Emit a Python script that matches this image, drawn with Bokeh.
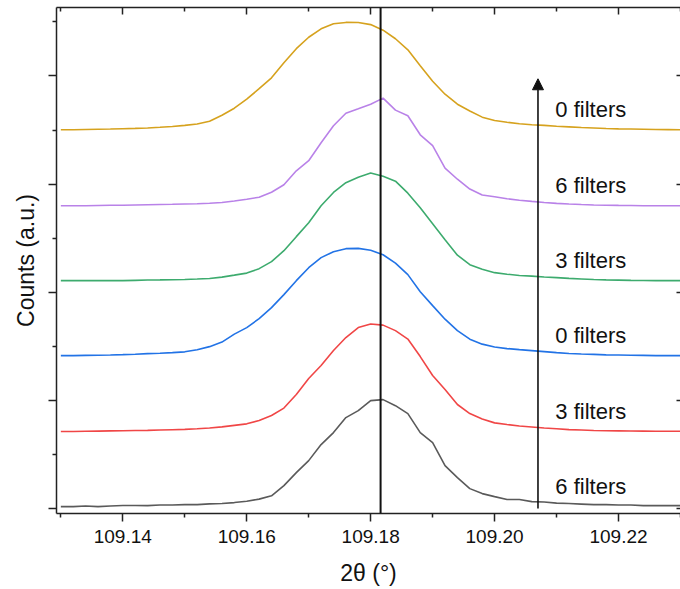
from bokeh.plotting import figure
from bokeh.models import (Range1d, FixedTicker, LinearAxis, Span, Arrow, NormalHead,
                          PrintfTickFormatter, ColumnDataSource, LabelSet)
from bokeh.core.properties import value
from bokeh.embed import file_html
from bokeh.resources import INLINE

# ---------------- data ----------------
two_theta = [109.130, 109.132, 109.134, 109.136, 109.138, 109.140, 109.142, 109.144, 109.146, 109.148,
             109.150, 109.152, 109.154, 109.156, 109.158, 109.160, 109.162, 109.164, 109.166, 109.168,
             109.170, 109.172, 109.174, 109.176, 109.178, 109.180, 109.182, 109.184, 109.186, 109.188,
             109.190, 109.192, 109.194, 109.196, 109.198, 109.200, 109.202, 109.204, 109.206, 109.208,
             109.210, 109.212, 109.214, 109.216, 109.218, 109.220, 109.222, 109.224, 109.226, 109.228,
             109.230]

gray_6f = [0, 0, .005, 0, .005, .01, .01, .009, .014, .014, .018, .018, .025, .028, .037, .049, .069, .10,
           .194, .314, .425, .573, .684, .823, .887, .98, .989, .933, .86, .684, .591, .379, .268, .166,
           .12, .092, .065, .065, .046, .042, .032, .028, .023, .018, .018, .014, .014, .009, .009, .009, .009]
red_3f = [0, 0, .002, .004, .006, .007, .009, .011, .014, .017, .02, .025, .032, .043, .057, .071, .102,
          .148, .217, .342, .49, .61, .749, .869, .961, .995, .984, .933, .855, .693, .518, .388, .25, .166,
          .116, .08, .065, .051, .042, .032, .025, .018, .014, .009, .007, .006, .005, .004, .003, .003, .003]
blue_0f = [0, 0, .002, .004, .006, .009, .013, .018, .022, .028, .035, .054, .083, .125, .199, .259, .342,
           .444, .564, .693, .813, .906, .961, .989, .992, .975, .933, .855, .749, .591, .462, .337, .231,
           .152, .106, .079, .065, .055, .046, .037, .028, .02, .015, .011, .007, .006, .004, .002, 0, 0, 0]
green_3f = [0, 0, 0, 0, 0, 0, .003, .006, .007, .009, .011, .015, .02, .033, .051, .07, .111, .176, .277,
            .407, .536, .693, .816, .906, .957, .995, .966, .92, .809, .675, .527, .379, .236, .148, .106,
            .074, .06, .048, .042, .034, .028, .021, .016, .011, .007, .005, .003, .002, 0, 0, 0]
purple_6f = [0, 0, 0, .002, .004, .005, .007, .009, .011, .013, .016, .018, .023, .03, .043, .06, .079,
             .125, .194, .323, .416, .582, .739, .855, .896, .938, .995, .884, .832, .656, .555, .347, .245,
             .154, .099, .083, .065, .051, .04, .03, .022, .016, .011, .007, .005, .003, .002, 0, 0, 0, 0]
gold_0f = [0, 0, .002, .004, .006, .009, .012, .016, .022, .03, .04, .053, .079, .134, .199, .282, .379,
           .48, .619, .749, .855, .933, .98, .992, .991, .972, .92, .841, .739, .592, .448, .328, .236, .173,
           .116, .085, .069, .055, .046, .04, .032, .026, .02, .016, .011, .008, .006, .004, .002, .001, 0]

series = [gray_6f, red_3f, blue_0f, green_3f, purple_6f, gold_0f]
offsets = [0.018, 0.712, 1.414, 2.107, 2.800, 3.503]
colors = ["#5a5a5a", "#f04646", "#2273e6", "#3dab6e", "#b982e8", "#d6a21e"]
labels = ["6 filters", "3 filters", "0 filters", "3 filters", "6 filters", "0 filters"]

x_ticks = [109.14, 109.16, 109.18, 109.20, 109.22]
x_minor = [109.13, 109.15, 109.17, 109.19, 109.21, 109.23]
y_ticks = [0, 1, 2, 3, 4]
y_minor = [0.5, 1.5, 2.5, 3.5, 4.5]

ref_line_x = 109.1816
arrow_x = 109.207
arrow_y0 = 0.0
arrow_y1 = 3.974
label_x = 109.2098
label_dy = 0.187

FONT = "Liberation Sans"
AX = "#222222"

# ---------------- figure ----------------
p = figure(width=680, height=589, output_backend="svg", toolbar_location=None,
           x_range=Range1d(109.1293, 109.2300), y_range=Range1d(-0.046, 4.633),
           min_border_left=56, min_border_right=0, min_border_top=7, min_border_bottom=76)
p.outline_line_color = None
p.grid.visible = False
p.background_fill_color = "white"
p.border_fill_color = "white"

xt = FixedTicker(ticks=x_ticks, minor_ticks=x_minor)
yt = FixedTicker(ticks=y_ticks, minor_ticks=y_minor)

xa = p.xaxis[0]
xa.ticker = xt
xa.formatter = PrintfTickFormatter(format="%.2f")
xa.axis_label = "2θ (°)"
xa.axis_line_width = 1.5
xa.axis_line_color = AX
xa.major_tick_line_color = AX
xa.minor_tick_line_color = AX
xa.major_tick_line_width = 1.5
xa.minor_tick_line_width = 1.5
xa.major_tick_out = 8
xa.major_tick_in = 0
xa.minor_tick_out = 4
xa.minor_tick_in = 0
xa.major_label_standoff = 8
xa.major_label_text_font = FONT
xa.major_label_text_font_size = "19px"
xa.major_label_text_color = "#111111"
xa.axis_label_text_font = FONT
xa.axis_label_text_font_size = "23px"
xa.axis_label_text_font_style = "normal"
xa.axis_label_text_color = "#111111"
xa.axis_label_standoff = 14

ya = p.yaxis[0]
ya.ticker = yt
ya.major_label_text_font_size = "0px"
ya.major_label_text_color = None
ya.major_label_standoff = 0
ya.axis_label = "Counts (a.u.)"
ya.axis_line_width = 1.5
ya.axis_line_color = AX
ya.major_tick_line_color = AX
ya.minor_tick_line_color = AX
ya.major_tick_line_width = 1.5
ya.minor_tick_line_width = 1.5
ya.major_tick_out = 8
ya.major_tick_in = 0
ya.minor_tick_out = 4
ya.minor_tick_in = 0
ya.axis_label_text_font = FONT
ya.axis_label_text_font_size = "23px"
ya.axis_label_text_font_style = "normal"
ya.axis_label_text_color = "#111111"
ya.axis_label_standoff = 10

top = LinearAxis(ticker=xt, major_label_text_font_size="0px", major_label_text_color=None,
                 major_label_standoff=0,
                 axis_line_width=1.5, axis_line_color=AX,
                 major_tick_line_color=AX, minor_tick_line_color=AX,
                 major_tick_line_width=1.5, minor_tick_line_width=1.5,
                 major_tick_in=7, major_tick_out=0, minor_tick_in=4, minor_tick_out=0)
p.add_layout(top, "above")

right = LinearAxis(ticker=FixedTicker(ticks=y_ticks, minor_ticks=[]),
                   major_label_text_font_size="0px", major_label_text_color=None,
                   major_label_standoff=0, axis_line_color=None,
                   major_tick_line_color=AX, major_tick_line_width=1.5,
                   major_tick_in=4, major_tick_out=0, minor_tick_in=0, minor_tick_out=0)
p.add_layout(right, "right")

# curves
for vals, off, col in zip(series, offsets, colors):
    ys = [v + off for v in vals]
    p.line(two_theta, ys, line_color=col, line_width=1.6)

# reference line
p.add_layout(Span(location=ref_line_x, dimension="height", line_color="#111111", line_width=2))

# arrow
p.add_layout(Arrow(end=NormalHead(size=11, fill_color="#111111", line_color="#111111", line_width=1),
                   x_start=arrow_x, y_start=arrow_y0, x_end=arrow_x, y_end=arrow_y1,
                   line_color="#111111", line_width=1.6))

# labels
lab_src = ColumnDataSource(dict(x=[label_x] * len(labels), y=[o + label_dy for o in offsets], text=labels))
p.add_layout(LabelSet(x="x", y="y", text="text", source=lab_src, text_font=value(FONT),
                      text_font_size="22px", text_baseline="middle", text_align="left",
                      text_color="#111111"))

open("out.html", "w").write(file_html(p, INLINE))
